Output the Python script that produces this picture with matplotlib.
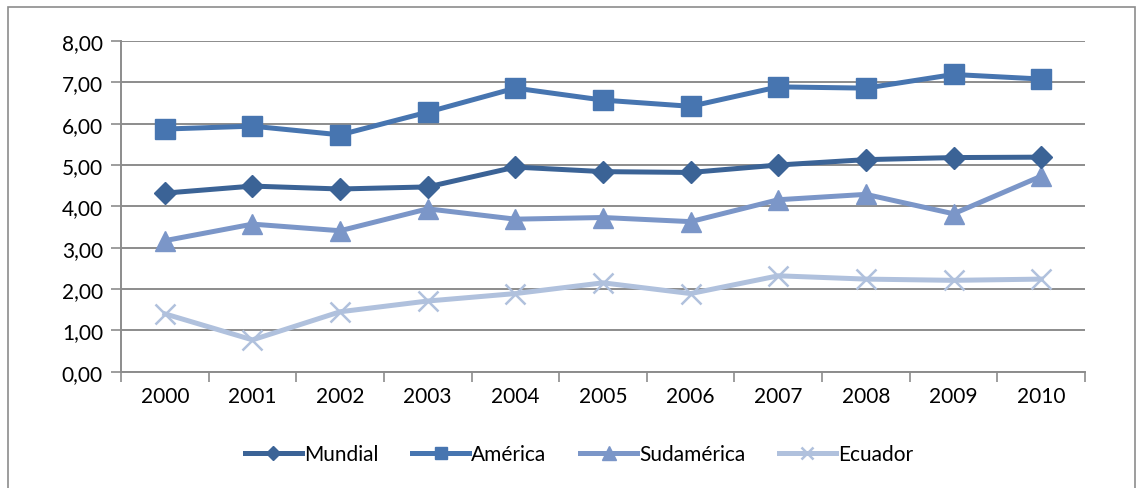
import numpy as np
import matplotlib.pyplot as plt
from matplotlib.patches import Rectangle
from matplotlib.ticker import FixedLocator, FuncFormatter

years = ['2000', '2001', '2002', '2003', '2004', '2005', '2006', '2007', '2008', '2009', '2010']
mundial = [4.32, 4.49, 4.42, 4.47, 4.95, 4.84, 4.82, 5.00, 5.13, 5.18, 5.19]
america = [5.87, 5.94, 5.73, 6.28, 6.86, 6.57, 6.42, 6.89, 6.86, 7.19, 7.08]
sudamerica = [3.17, 3.57, 3.41, 3.94, 3.69, 3.73, 3.63, 4.16, 4.29, 3.82, 4.73]
ecuador = [1.40, 0.77, 1.45, 1.71, 1.89, 2.15, 1.89, 2.32, 2.24, 2.21, 2.24]

plt.rcParams['font.family'] = ['Lato', 'DejaVu Sans']

fig = plt.figure(figsize=(11.43, 4.89), dpi=100)
ax = fig.add_axes([121/1143, 1 - 372.7/489, 964/1143, 330.7/489])

# marco exterior del grafico
fig.patches.append(Rectangle((8/1143, -0.05), 1127/1143, 1 - 8/489 + 0.05,
                             transform=fig.transFigure, fill=False,
                             edgecolor='#8c8c8c', linewidth=1.2))

x = np.arange(len(years))
ax.plot(x, mundial, color='#3b6396', lw=3.6, marker='D', ms=11, label='Mundial', zorder=5)
ax.plot(x, america, color='#4775b0', lw=3.6, marker='s', ms=14, label='América', zorder=4)
ax.plot(x, sudamerica, color='#7b96c8', lw=3.6, marker='^', ms=15, label='Sudamérica', zorder=3)
ax.plot(x, ecuador, color='#b0c1dd', lw=3.6, marker='x', ms=14, mew=1.8, label='Ecuador', zorder=2)

ax.set_xlim(-0.5, 10.5)
ax.set_ylim(0, 8)
ax.set_yticks(np.arange(0, 9, 1))
ax.yaxis.set_major_formatter(FuncFormatter(lambda v, p: f'{v:.2f}'.replace('.', ',')))
ax.xaxis.set_major_locator(FixedLocator(np.arange(-0.5, 11, 1)))
ax.xaxis.set_minor_locator(FixedLocator(x))
ax.set_xticklabels([])
ax.set_xticklabels(years, minor=True)
ax.tick_params(axis='x', which='minor', length=0, labelsize=15, pad=10)
ax.tick_params(axis='x', which='major', length=7, width=1.2, color='#8c8c8c')
ax.tick_params(axis='y', length=7, width=1.2, color='#8c8c8c', labelsize=15, pad=6)

ax.grid(axis='y', color='#8c8c8c', lw=1.4)
ax.set_axisbelow(True)
for s in ['top', 'right']:
    ax.spines[s].set_visible(False)
for s in ['left', 'bottom']:
    ax.spines[s].set_color('#8c8c8c')
    ax.spines[s].set_linewidth(1.4)

fig.legend(loc='center', bbox_to_anchor=(579/1143, 1 - 455/489), ncol=4, frameon=False,
           fontsize=15, handlelength=2.75, columnspacing=1.6, handletextpad=0.1,
           markerscale=0.65)

fig.savefig('out.png', dpi=100)
